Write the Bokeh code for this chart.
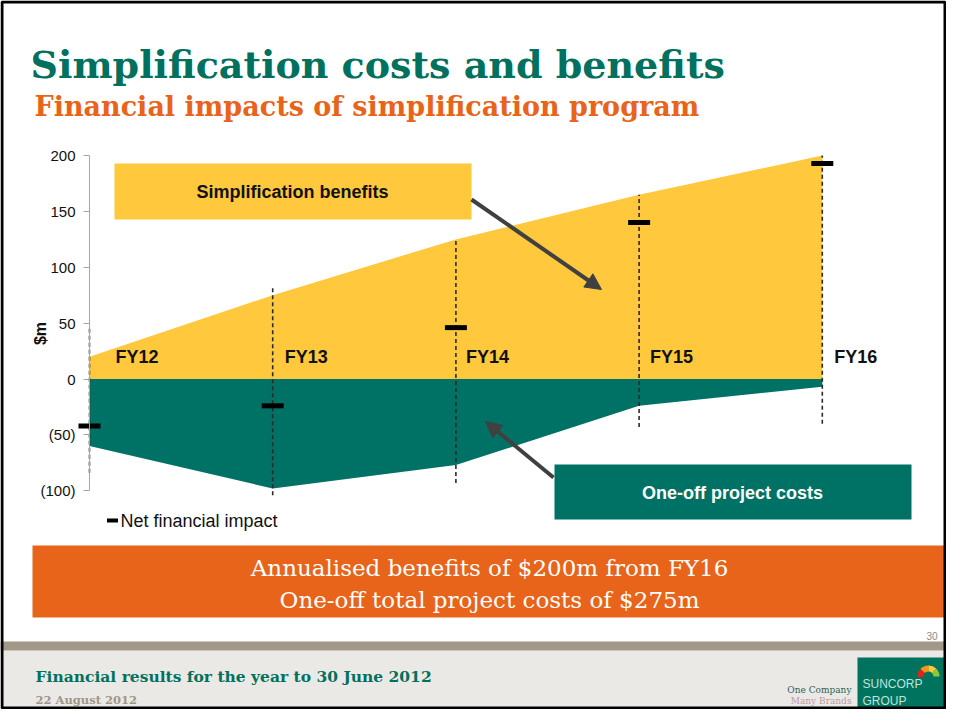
import math
from bokeh.plotting import figure
from bokeh.models import Range1d, LinearAxis, FixedTicker, Arrow, NormalHead
from bokeh.core.properties import value
from bokeh.embed import file_html
from bokeh.resources import INLINE

# ---------------- data ----------------
years = ["FY12", "FY13", "FY14", "FY15", "FY16"]
benefits = [20, 75, 125, 165, 200]
costs = [-60, -98, -77, -24, -7]
net = [-42, -24, 46, 140, 193]
guide_top = [45, 83, 126, 165, 200]
guide_bottom = [-84, -104, -93, -43, -40]
y_ticks = [-100, -50, 0, 50, 100, 150, 200]
y_tick_labels = ["(100)", "(50)", "0", "50", "100", "150", "200"]

# ---------------- layout ----------------
W, H = 946, 709
YELLOW = "#FFC83D"
TEAL = "#007265"
ORANGE = "#E8641A"
DARK = "#404040"

xs = list(range(len(years)))
X0_PX, DX = 89.0, 183.2        # pixel of FY12, pixels per year
Y0_PX, DY = 378.5, 1.117       # pixel of 0, pixels per $m
x_range = Range1d(-X0_PX / DX, (W - X0_PX) / DX)
y_range = Range1d(-(H - Y0_PX) / DY, Y0_PX / DY)

p = figure(width=W, height=H, x_range=x_range, y_range=y_range,
           output_backend="svg", toolbar_location=None, title=None,
           x_axis_location=None, y_axis_location=None, min_border=0,
           outline_line_color=None, background_fill_color="white",
           border_fill_color="white")
p.grid.visible = False
p.extra_x_ranges = {"px": Range1d(0, W)}
p.extra_y_ranges = {"px": Range1d(H, 0)}
PX = dict(x_range_name="px", y_range_name="px")

SERIF = value("DejaVu Serif")
SANS = value("Liberation Sans")

# footer background and band
p.quad(left=0, right=W, top=650, bottom=H, fill_color="#EBE9E5", line_color=None, **PX)
p.quad(left=0, right=W, top=641, bottom=650, fill_color="#A19887", line_color=None, **PX)

# titles
p.text(x=[30], y=[64], text=["Simplification costs and benefits"], text_font=SERIF,
       text_font_style="bold", text_font_size="38px", text_color="#00705F",
       text_baseline="alphabetic", **PX)
p.text(x=[34], y=[106], text=["Financial impacts of simplification program"], text_font=SERIF,
       text_font_style="bold", text_font_size="27px", text_color=ORANGE,
       text_baseline="alphabetic", **PX)

# areas
p.varea(x=xs, y1=[0] * len(xs), y2=benefits, fill_color=YELLOW)
p.varea(x=xs, y1=costs, y2=[0] * len(xs), fill_color=TEAL)

# dashed guides
p.segment(x0=xs, y0=guide_bottom, x1=xs, y1=guide_top, line_color="#2A2A2A",
          line_width=1.6, line_dash="4 3")

# net markers
p.scatter(x=xs, y=net, marker="dash", size=22, line_width=5, line_color="black")

# year labels
label_offsets = [26, 12, 10, 11, 12]
p.text(x=xs, y=[20] * len(xs), text=years, x_offset=label_offsets, text_font=SANS,
       text_font_style="bold", text_font_size="18px", text_color="#111111",
       text_baseline="middle")

# y axis
ax = LinearAxis(fixed_location=0, ticker=FixedTicker(ticks=y_ticks),
                major_label_overrides={t: l for t, l in zip(y_ticks, y_tick_labels)},
                bounds=(-100, 200))
ax.axis_line_color = "#A6A6A6"
ax.major_tick_line_color = "#A6A6A6"
ax.major_tick_out = 6
ax.major_tick_in = 0
ax.minor_tick_line_color = None
ax.major_label_text_font = "Liberation Sans"
ax.major_label_text_font_size = "15px"
ax.major_label_text_color = "#111111"
ax.major_label_standoff = 8
p.add_layout(ax, "left")

p.text(x=[40], y=[333], text=["$m"], angle=math.pi / 2, text_font=SANS, text_font_style="bold",
       text_font_size="16px", text_color="#111111", text_align="center",
       text_baseline="middle", **PX)

# callout boxes
p.quad(left=114, right=471, top=163, bottom=219, fill_color=YELLOW, line_color=None, **PX)
p.text(x=[292], y=[191], text=["Simplification benefits"], text_font=SANS, text_font_style="bold",
       text_font_size="18px", text_color="#111111", text_align="center",
       text_baseline="middle", **PX)
p.quad(left=554, right=911, top=464, bottom=519, fill_color=TEAL, line_color=None, **PX)
p.text(x=[732], y=[492], text=["One-off project costs"], text_font=SANS, text_font_style="bold",
       text_font_size="18px", text_color="white", text_align="center",
       text_baseline="middle", **PX)

p.add_layout(Arrow(x_start=471, y_start=199, x_end=601, y_end=289, line_width=4,
                   line_color=DARK, start=None,
                   end=NormalHead(size=16, fill_color=DARK, line_color=DARK), **PX))
p.add_layout(Arrow(x_start=553, y_start=477, x_end=485, y_end=421, line_width=4,
                   line_color=DARK, start=None,
                   end=NormalHead(size=16, fill_color=DARK, line_color=DARK), **PX))

# legend
p.scatter(x=[112], y=[520], marker="dash", size=11, line_width=4, line_color="black", **PX)
p.text(x=[120], y=[520], text=["Net financial impact"], text_font=SANS,
       text_font_size="18px", text_color="#111111", text_baseline="middle", **PX)

# orange banner
p.quad(left=32, right=946, top=545, bottom=617, fill_color=ORANGE, line_color=None, **PX)
p.text(x=[489, 489], y=[567, 599],
       text=["Annualised benefits of $200m from FY16", "One-off total project costs of $275m"],
       text_font=SERIF, text_font_size="23px", text_color="white",
       text_align="center", text_baseline="middle", **PX)

# page number & footer
p.text(x=[937], y=[635], text=["30"], text_font=SANS, text_font_size="10px",
       text_color="#888888", text_align="right", text_baseline="middle", **PX)
p.text(x=[35], y=[676], text=["Financial results for the year to 30 June 2012"], text_font=SERIF,
       text_font_style="bold", text_font_size="15.5px", text_color="#00705F",
       text_baseline="middle", **PX)
p.text(x=[35], y=[699], text=["22 August 2012"], text_font=SERIF, text_font_style="bold",
       text_font_size="11.5px", text_color="#A09688", text_baseline="middle", **PX)
p.text(x=[851, 851], y=[689, 700], text=["One Company", "Many Brands"], text_font=SERIF,
       text_font_size="9px", text_color=["#2F5F57", "#B99AA5"], text_align="right",
       text_baseline="middle", **PX)
p.quad(left=857, right=945, top=657, bottom=716, fill_color="#00735F", line_color=None, **PX)
p.annular_wedge(x=[928] * 4, y=[676] * 4, inner_radius=5, outer_radius=11,
                start_angle=[0.0, 0.8, 1.6, 2.4], end_angle=[0.8, 1.6, 2.4, 3.2],
                fill_color=["#8DC63F", "#FFC83D", "#F7941D", "#E2231A"], line_color=None,
                start_angle_units="rad", end_angle_units="rad", **PX)
p.text(x=[862, 862], y=[683, 700], text=["SUNCORP", "GROUP"], text_font=SANS,
       text_font_size="12px", text_color="#BFE3DC", text_baseline="middle", **PX)

# slide frame
p.quad(left=1.5, right=W - 1.5, top=1.5, bottom=H - 1.5, fill_color=None, line_color="black",
       line_width=3, **PX)

open("out.html", "w").write(file_html(p, INLINE))
